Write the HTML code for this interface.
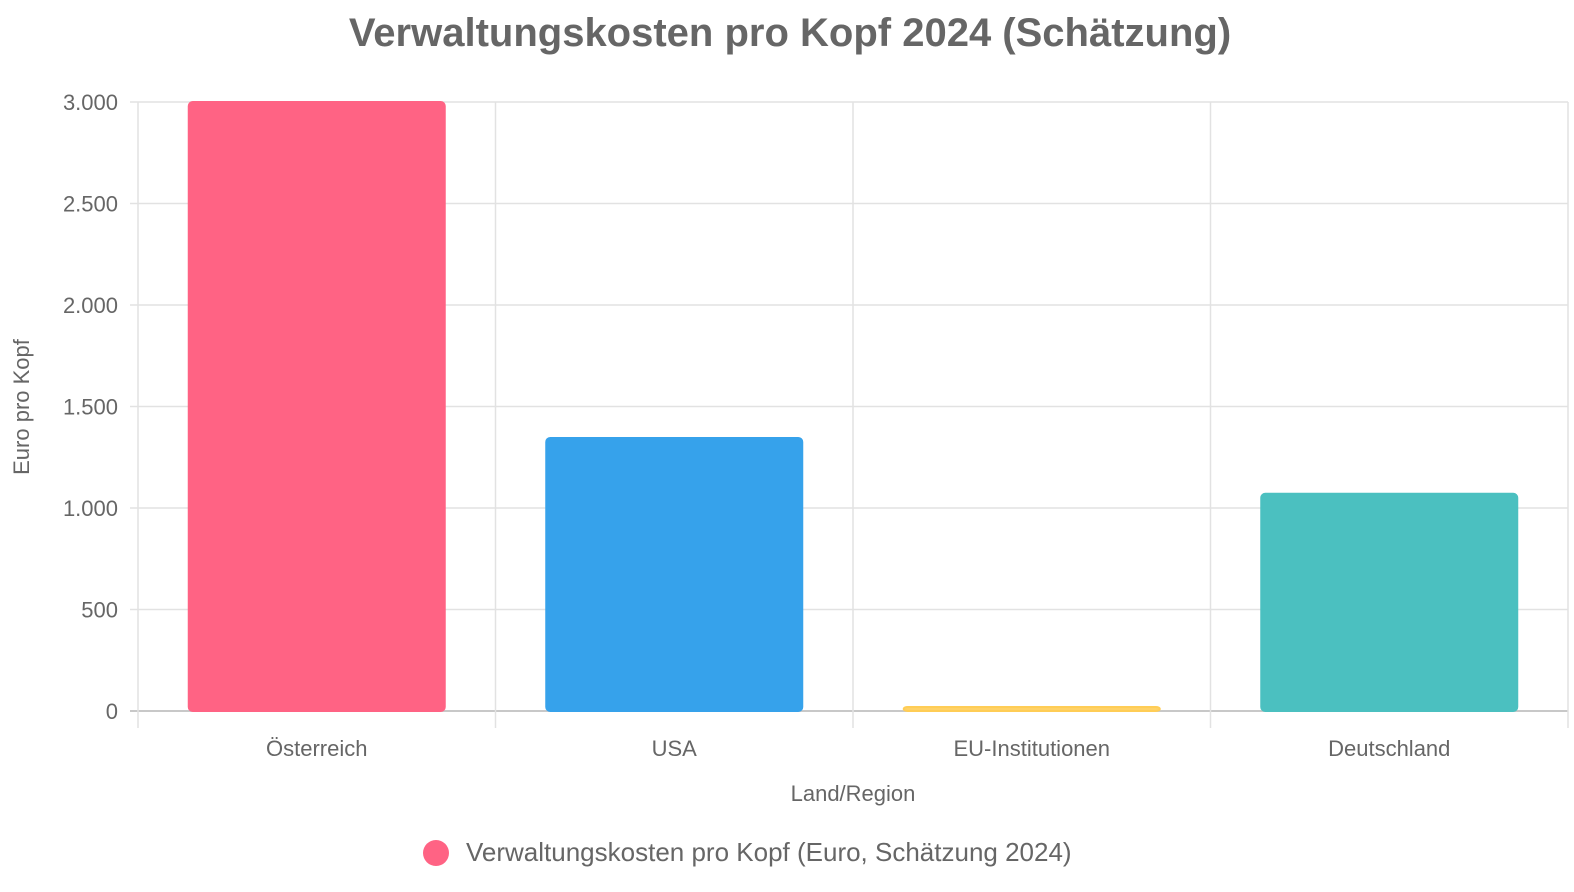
<!DOCTYPE html>
<html><head><meta charset="utf-8"><style>
body{margin:0;background:#fff;font-family:"Liberation Sans",Arial,sans-serif;}
svg{display:block}
</style></head><body>
<svg id="c" width="1574" height="892" xmlns="http://www.w3.org/2000/svg">
<text x="790" y="46" text-anchor="middle" font-size="40" font-weight="bold" fill="#666" font-family="Liberation Sans, Arial, sans-serif">Verwaltungskosten pro Kopf 2024 (Schätzung)</text>
<g id="grid"></g><g id="bars"></g><g id="labels"></g>
<text transform="translate(29,407) rotate(-90)" text-anchor="middle" font-size="22" fill="#666">Euro pro Kopf</text>
<text x="853" y="801" text-anchor="middle" font-size="22" fill="#666">Land/Region</text>
<g>
<circle cx="436" cy="853" r="13" fill="#ff6384"/>
<text x="466" y="861" font-size="26" fill="#666">Verwaltungskosten pro Kopf (Euro, Schätzung 2024)</text>
</g>
</svg>
<script>
const categories=["Österreich","USA","EU-Institutionen","Deutschland"];
const values=[3000,1345,20,1070];
const yTicks=[0,500,1000,1500,2000,2500,3000];
const tickLabels=["0","500","1.000","1.500","2.000","2.500","3.000"];
const colors=["#ff6384","#36a2eb","#ffcd56","#4bc0c0"];
const fills=["#ff6384","#36a2eb","rgba(255,205,86,0.9)","#4bc0c0"];
const NS="http://www.w3.org/2000/svg";
const x0=138,x1=1568,yTop=102,yBot=711,yMax=3000;
const y=v=>yBot-(v/yMax)*(yBot-yTop);
const bw=(x1-x0)/categories.length;
const xc=i=>x0+bw*(i+0.5);
function mk(tag,attrs,parent){const e=document.createElementNS(NS,tag);for(const k in attrs)e.setAttribute(k,attrs[k]);document.getElementById(parent).appendChild(e);return e;}
yTicks.forEach((t,i)=>{
 const l=mk("line",{x1:x0-8,x2:x1,y1:y(t),y2:y(t),stroke:t===0?"#c8c8c8":"#e2e2e2","stroke-width":t===0?2:1.5},"grid");
 
 
 const tx=mk("text",{x:x0-20,y:y(t)+8,"text-anchor":"end","font-size":22,fill:"#666"},"labels");
 tx.textContent=tickLabels[i];
 
 
});
for(let i=0;i<=categories.length;i++){
 const l=mk("line",{x1:x0+bw*i,x2:x0+bw*i,y1:yTop,y2:yBot+17,stroke:"#e2e2e2","stroke-width":1.5},"grid");
 
 
}
categories.forEach((c,i)=>{
 const w=256,top=y(values[i]),h=yBot-top;
 const r=mk("rect",{x:xc(i)-w/2,y:top,width:w,height:Math.max(h,1),rx:4,fill:fills[i],stroke:colors[i],"stroke-width":2},"bars");
 
 
 const t=mk("text",{x:xc(i),y:756,"text-anchor":"middle","font-size":22,fill:"#666"},"labels");
 t.textContent=c;
 
 
});
</script>
</body></html>
